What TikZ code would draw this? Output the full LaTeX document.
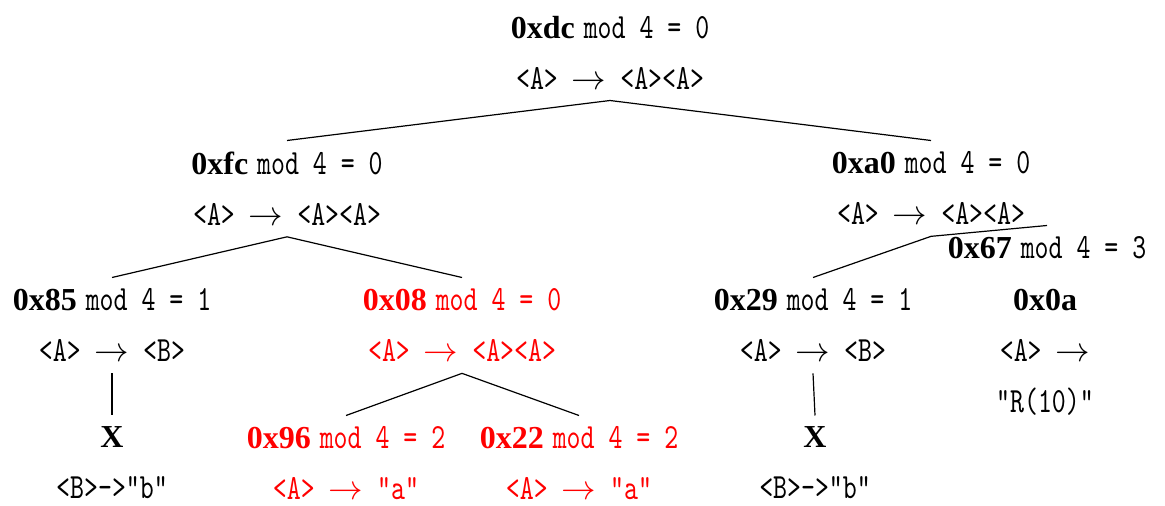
\documentclass[tikz,border=0pt]{standalone}
\usepackage{fontspec}
\setmainfont{Liberation Serif}
\setmonofont[FakeStretch=0.75]{lmmono10-regular.otf}
\usepackage{tikz}
\definecolor{HashRed}{RGB}{255,0,0}
\newcommand{\hx}[1]{\textbf{#1}}
\newcommand{\tm}[1]{{\fontsize{17.7}{25.5}\selectfont\ttfamily #1}}
\newcommand{\md}[2]{\hx{#1}\hspace{4.5pt}\tm{mod 4 = #2}}
\newcommand{\rto}{$\rightarrow$}

\begin{document}
\begin{tikzpicture}[x=0.5pt,y=-0.5pt,
    tn/.style={align=center,anchor=north,inner xsep=0pt,inner ysep=5.5pt,font=\fontsize{16}{25.5}\selectfont},
    hot/.style={tn,text=HashRed},
    edge/.style={line width=0.6pt}]
  \useasboundingbox (0,0) rectangle (1165,506);
  \node[tn]  (dc)  at (610,4.5)    {\md{0xdc}{0}\\ \tm{<A> }\rto\tm{ <A><A>}};
  \node[tn]  (fc)  at (287,140.5)  {\md{0xfc}{0}\\ \tm{<A> }\rto\tm{ <A><A>}};
  \node[tn]  (a0)  at (931,140.5)  {\md{0xa0}{0}\\ \tm{<A> }\rto\tm{ <A><A>}};
  \node[tn]  (x85) at (112,277.5)  {\md{0x85}{1}\\ \tm{<A> }\rto\tm{ <B>}};
  \node[hot] (x08) at (462,277.5)  {\md{0x08}{0}\\ \tm{<A> }\rto\tm{ <A><A>}};
  \node[tn]  (x29) at (813,277.5)  {\md{0x29}{1}\\ \tm{<A> }\rto\tm{ <B>}};
  \node[tn]  (x67) at (1047,225.5) {\md{0x67}{3}};
  \node[tn]  (x0a) at (1045,277.5) {\hx{0x0a}\\ \tm{<A> }\rto\\ \tm{"R(10)"}};
  \node[tn]  (xl)  at (112,415.5)  {\hx{X}\\ \tm{<B>->"b"}};
  \node[hot] (x96) at (346,415.5)  {\md{0x96}{2}\\ \tm{<A> }\rto\tm{ "a"}};
  \node[hot] (x22) at (579,415.5)  {\md{0x22}{2}\\ \tm{<A> }\rto\tm{ "a"}};
  \node[tn]  (xr)  at (815,415.5)  {\hx{X}\\ \tm{<B>->"b"}};
  \draw[edge] (dc.south) -- (fc.north);
  \draw[edge] (dc.south) -- (a0.north);
  \draw[edge] (fc.south) -- (x85.north);
  \draw[edge] (fc.south) -- (x08.north);
  \draw[edge] (a0.south) -- (x29.north);
  \draw[edge] (a0.south) -- (x67.north);
  \draw[edge] (x85.south) -- (xl.north);
  \draw[edge] (x08.south) -- (x96.north);
  \draw[edge] (x08.south) -- (x22.north);
  \draw[edge] (x29.south) -- (xr.north);
\end{tikzpicture}
\end{document}
